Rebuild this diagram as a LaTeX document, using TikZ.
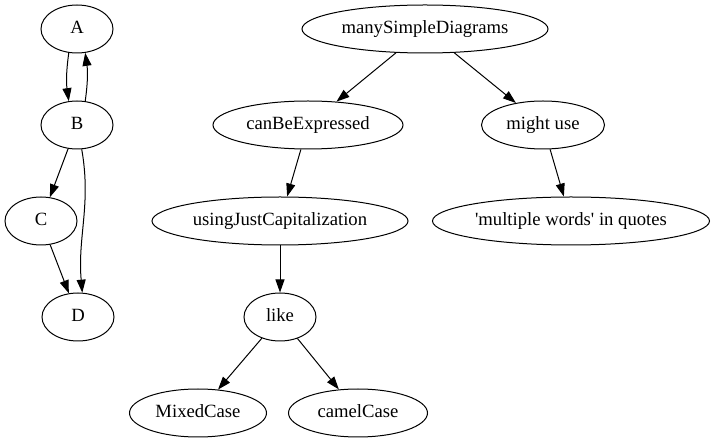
\documentclass[tikz,border=0pt]{standalone}
\usepackage{fontspec}
\setmainfont{Liberation Serif}
\usetikzlibrary{shapes.geometric,arrows.meta}

\begin{document}
\begin{tikzpicture}[x=1pt, y=-1pt,
  gvnode/.style={draw, ellipse, line width=1pt, inner sep=0pt,
    minimum width=#1, minimum height=48pt, text height=13pt, text depth=4pt,
    font=\fontsize{18.67}{22}\selectfont},
  gvnode/.default=72pt,
  link/.style={-{Triangle[length=13pt,width=9pt]}, line width=1pt}]
  \useasboundingbox (0,0) rectangle (715,443);

  % small graph on the left
  \node[gvnode] (A) at (77,29) {A};
  \node[gvnode] (B) at (77,125) {B};
  \node[gvnode] (C) at (41,221) {C};
  \node[gvnode] (D) at (78,317) {D};

  % tree on the right
  \node[gvnode=246pt] (many) at (425,29) {manySimpleDiagrams};
  \node[gvnode=190pt] (can) at (308,125) {canBeExpressed};
  \node[gvnode=123pt] (might) at (543,125) {might use};
  \node[gvnode=256pt] (using) at (280,221) {usingJustCapitalization};
  \node[gvnode=277pt] (multi) at (571,221) {\textquotesingle multiple words\textquotesingle{} in quotes};
  \node[gvnode] (like) at (280,317) {like};
  \node[gvnode=137pt] (mixed) at (198,413) {MixedCase};
  \node[gvnode=139pt] (camel) at (358,413) {camelCase};

  % edges, left
  \draw[link] (A.-109) to[bend right=8] (B.109);
  \draw[link] (B.71) to[bend right=8] (A.-71);
  \draw[link] (B) -- (C);
  \draw[link] (C) -- (D);
  \draw[link] (B.-79) to[out=-80, in=95] (D.80);

  % edges, right
  \draw[link] (many) -- (can);
  \draw[link] (many) -- (might);
  \draw[link] (can) -- (using);
  \draw[link] (might) -- (multi);
  \draw[link] (using) -- (like);
  \draw[link] (like) -- (mixed);
  \draw[link] (like) -- (camel);
\end{tikzpicture}
\end{document}
